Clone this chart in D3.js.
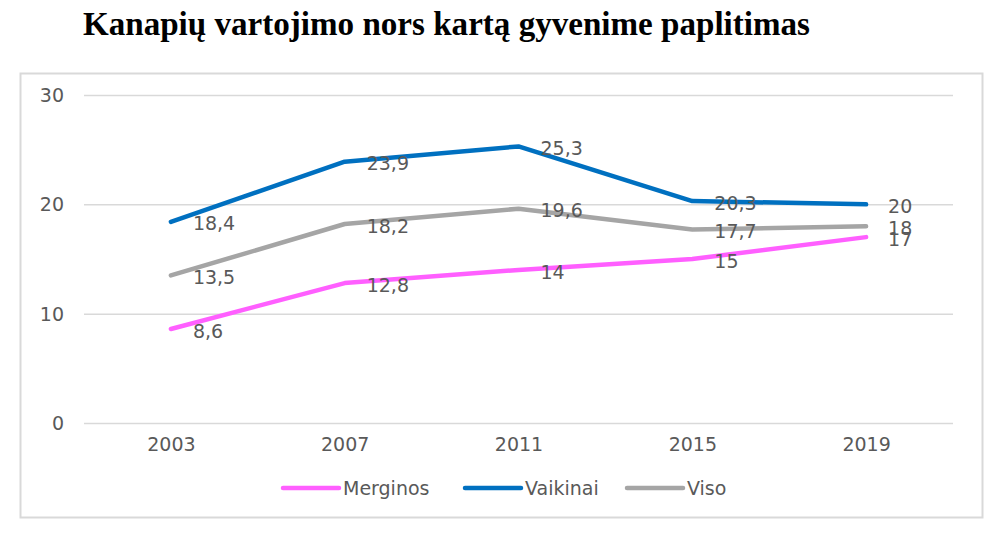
<!DOCTYPE html>
<html>
<head>
<meta charset="utf-8">
<script src="https://cdn.jsdelivr.net/npm/d3@7"></script>
<style>
  body { margin: 0; background: #fff; }
  svg text { font-family: "DejaVu Sans", sans-serif; fill: #595959; }
</style>
</head>
<body>
<svg></svg>
<script>
let width = 1002,
height = 535;

// data
let years = ["2003", "2007", "2011", "2015", "2019"];
let merginos = [8.6, 12.8, 14, 15, 17];
let vaikinai = [18.4, 23.9, 25.3, 20.3, 20];
let viso = [13.5, 18.2, 19.6, 17.7, 18];
let seriesNames = ["Merginos", "Vaikinai", "Viso"];
let seriesColors = ["#ff5fff", "#0070c0", "#a5a5a5"];
let yTicks = [0, 10, 20, 30];

let series = [merginos, vaikinai, viso].map((vals, i) => ({
  name: seriesNames[i],
  color: seriesColors[i],
  values: vals.map((v, j) => ({ year: years[j], v: v }))
}));

let svg = d3.select("svg")
  .attr("width", width)
  .attr("height", height);

// title
svg.append("text")
  .attr("x", 83)
  .attr("y", 35)
  .attr("textLength", 727)
  .attr("lengthAdjust", "spacingAndGlyphs")
  .style("font-family", "'Liberation Serif', serif")
  .style("font-weight", "bold")
  .style("font-size", "33px")
  .style("fill", "#000")
  .text("Kanapių vartojimo nors kartą gyvenime paplitimas");

// chart frame
svg.append("rect")
  .attr("x", 20.5)
  .attr("y", 73.5)
  .attr("width", 962)
  .attr("height", 444)
  .attr("fill", "none")
  .attr("stroke", "#d9d9d9")
  .attr("stroke-width", 2);

let xScale = d3.scalePoint().domain(years).range([84, 953]).padding(0.5);
let yScale = d3.scaleLinear().domain([0, 30]).range([423, 95]);

// y axis with gridlines
let yAxis = d3.axisLeft(yScale).tickValues(yTicks).tickSize(-(953 - 84)).tickPadding(20);
let gy = svg.append("g")
  .attr("transform", "translate(84,0)")
  .call(yAxis);
gy.select(".domain").remove();
gy.selectAll(".tick line").attr("stroke", "#d9d9d9").attr("stroke-width", 1.5);
gy.selectAll(".tick text").style("font-size", "19px").attr("fill", "#595959").attr("dy", "0.35em");

// x axis
let xAxis = d3.axisBottom(xScale).tickSize(0).tickPadding(15);
let gx = svg.append("g")
  .attr("transform", "translate(0,423)")
  .call(xAxis);
gx.select(".domain").remove();
gx.selectAll(".tick text").style("font-size", "19px").attr("fill", "#595959");

// lines
let line = d3.line()
  .x(d => xScale(d.year))
  .y(d => yScale(d.v));

svg.append("g")
  .selectAll("path")
  .data(series)
  .enter()
  .append("path")
  .attr("d", d => line(d.values))
  .attr("fill", "none")
  .attr("stroke", d => d.color)
  .attr("stroke-width", 4.5)
  .attr("stroke-linecap", "round")
  .attr("stroke-linejoin", "round");

// data labels
series.forEach(s => {
  svg.append("g")
    .selectAll("text")
    .data(s.values)
    .enter()
    .append("text")
    .attr("x", d => xScale(d.year) + 22)
    .attr("y", d => yScale(d.v) + 2)
    .attr("dy", "0.35em")
    .style("font-size", "19px")
    .text(d => String(d.v).replace(".", ","));
});

// legend
let legendX = [283, 465, 627];
let legend = svg.append("g")
  .selectAll("g")
  .data(series)
  .enter()
  .append("g")
  .attr("transform", (d, i) => `translate(${legendX[i]}, 488)`);
legend.append("line")
  .attr("x1", 0).attr("x2", 56)
  .attr("stroke", d => d.color)
  .attr("stroke-width", 4.5)
  .attr("stroke-linecap", "round");
legend.append("text")
  .attr("x", 60)
  .attr("dy", "0.35em")
  .style("font-size", "19px")
  .text(d => d.name);
</script>
</body>
</html>
